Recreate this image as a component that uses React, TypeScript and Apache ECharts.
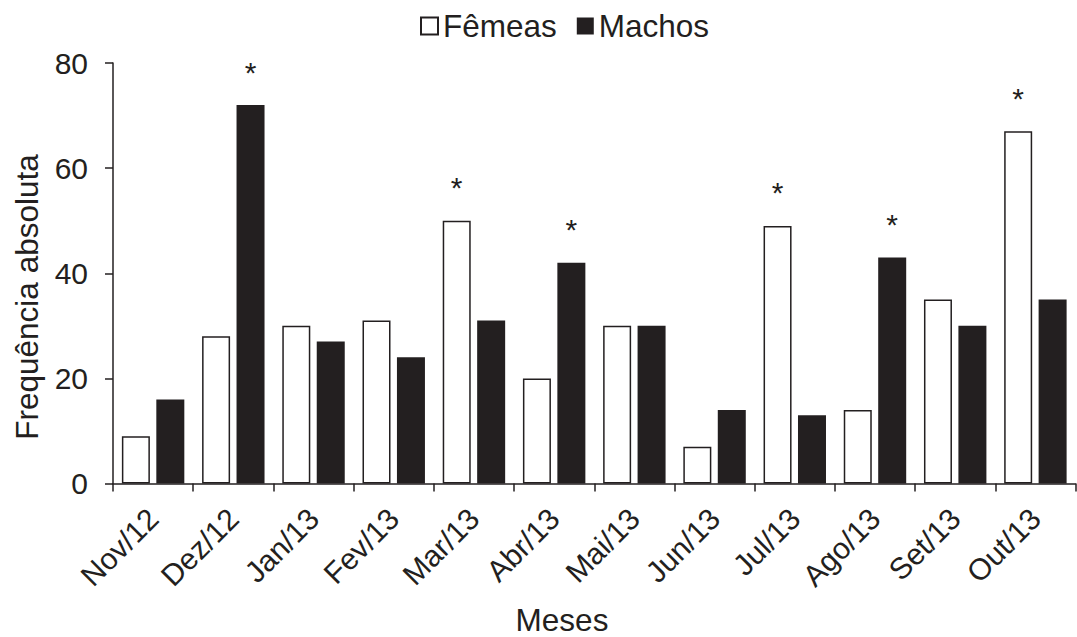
import React, { useEffect, useRef } from "react";
import * as echarts from "echarts";

const categories = ["Nov/12", "Dez/12", "Jan/13", "Fev/13", "Mar/13", "Abr/13", "Mai/13", "Jun/13", "Jul/13", "Ago/13", "Set/13", "Out/13"];
const femeas = [9, 28, 30, 31, 50, 20, 30, 7, 49, 14, 35, 67];
const machos = [16, 72, 27, 24, 31, 42, 30, 14, 13, 43, 30, 35];
const femeasSig = [false, false, false, false, true, false, false, false, true, false, false, true];
const machosSig = [false, true, false, false, false, true, false, false, false, true, false, false];
const yTicks = [0, 20, 40, 60, 80];

const INK = "#231f20";
const FONT = "'Liberation Sans', Arial, Helvetica, sans-serif";

export default function App() {
  const ref = useRef<HTMLDivElement>(null);
  useEffect(() => {
    document.body.style.margin = "0";
    if (!ref.current) return;
    const chart = echarts.init(ref.current, undefined, { renderer: "svg" });
    const starLabel = {
      show: true,
      position: "top",
      formatter: "*",
      fontSize: 30,
      fontFamily: FONT,
      color: INK,
      distance: 18,
    };
    const mk = (vals: number[], sig: boolean[]) =>
      vals.map((v, i) => (sig[i] ? { value: v, label: starLabel } : { value: v }));
    chart.setOption({
      animation: false,
      backgroundColor: "#ffffff",
      textStyle: { fontFamily: FONT, color: INK },
      grid: { left: 113, right: 1.5, top: 63, bottom: 153.5 },
      legend: {
        left: 415,
        top: 5,
        itemWidth: 17,
        itemHeight: 17,
        itemGap: 20,
        icon: "rect",
        textStyle: { fontSize: 31.5, fontFamily: FONT, color: INK },
        data: ["Fêmeas", "Machos"],
      },
      xAxis: {
        type: "category",
        data: categories,
        boundaryGap: true,
        axisLine: { show: true, lineStyle: { color: INK, width: 1.5 } },
        axisTick: { show: true, length: 8, lineStyle: { color: INK, width: 1.5 } },
        axisLabel: { rotate: 45, margin: 30, fontSize: 30, fontFamily: FONT, color: INK, interval: 0 },
        splitLine: { show: false },
      },
      yAxis: {
        type: "value",
        min: yTicks[0],
        max: yTicks[yTicks.length - 1],
        interval: 20,
        axisLine: { show: true, lineStyle: { color: INK, width: 1.5 } },
        axisTick: { show: true, length: 8, lineStyle: { color: INK, width: 1.5 } },
        axisLabel: { margin: 25, fontSize: 30, fontFamily: FONT, color: INK },
        splitLine: { show: false },
      },
      graphic: [
        {
          type: "text",
          x: 27,
          y: 297,
          rotation: Math.PI / 2,
          style: {
            text: "Frequência absoluta",
            fontSize: 31.5,
            fontFamily: FONT,
            fill: INK,
            align: "center",
            verticalAlign: "middle",
          },
        },
        {
          type: "text",
          x: 562,
          y: 620,
          style: {
            text: "Meses",
            fontSize: 31.5,
            fontFamily: FONT,
            fill: INK,
            align: "center",
            verticalAlign: "middle",
          },
        },
      ],
      series: [
        {
          name: "Fêmeas",
          type: "bar",
          data: mk(femeas, femeasSig),
          barWidth: 28,
          barGap: "23%",
          itemStyle: { color: "#ffffff", borderColor: INK, borderWidth: 1.5 },
        },
        {
          name: "Machos",
          type: "bar",
          data: mk(machos, machosSig),
          barWidth: 28,
          itemStyle: { color: INK },
        },
      ],
    });
    return () => chart.dispose();
  }, []);
  return <div ref={ref} style={{ width: 1077, height: 637 }} />;
}
